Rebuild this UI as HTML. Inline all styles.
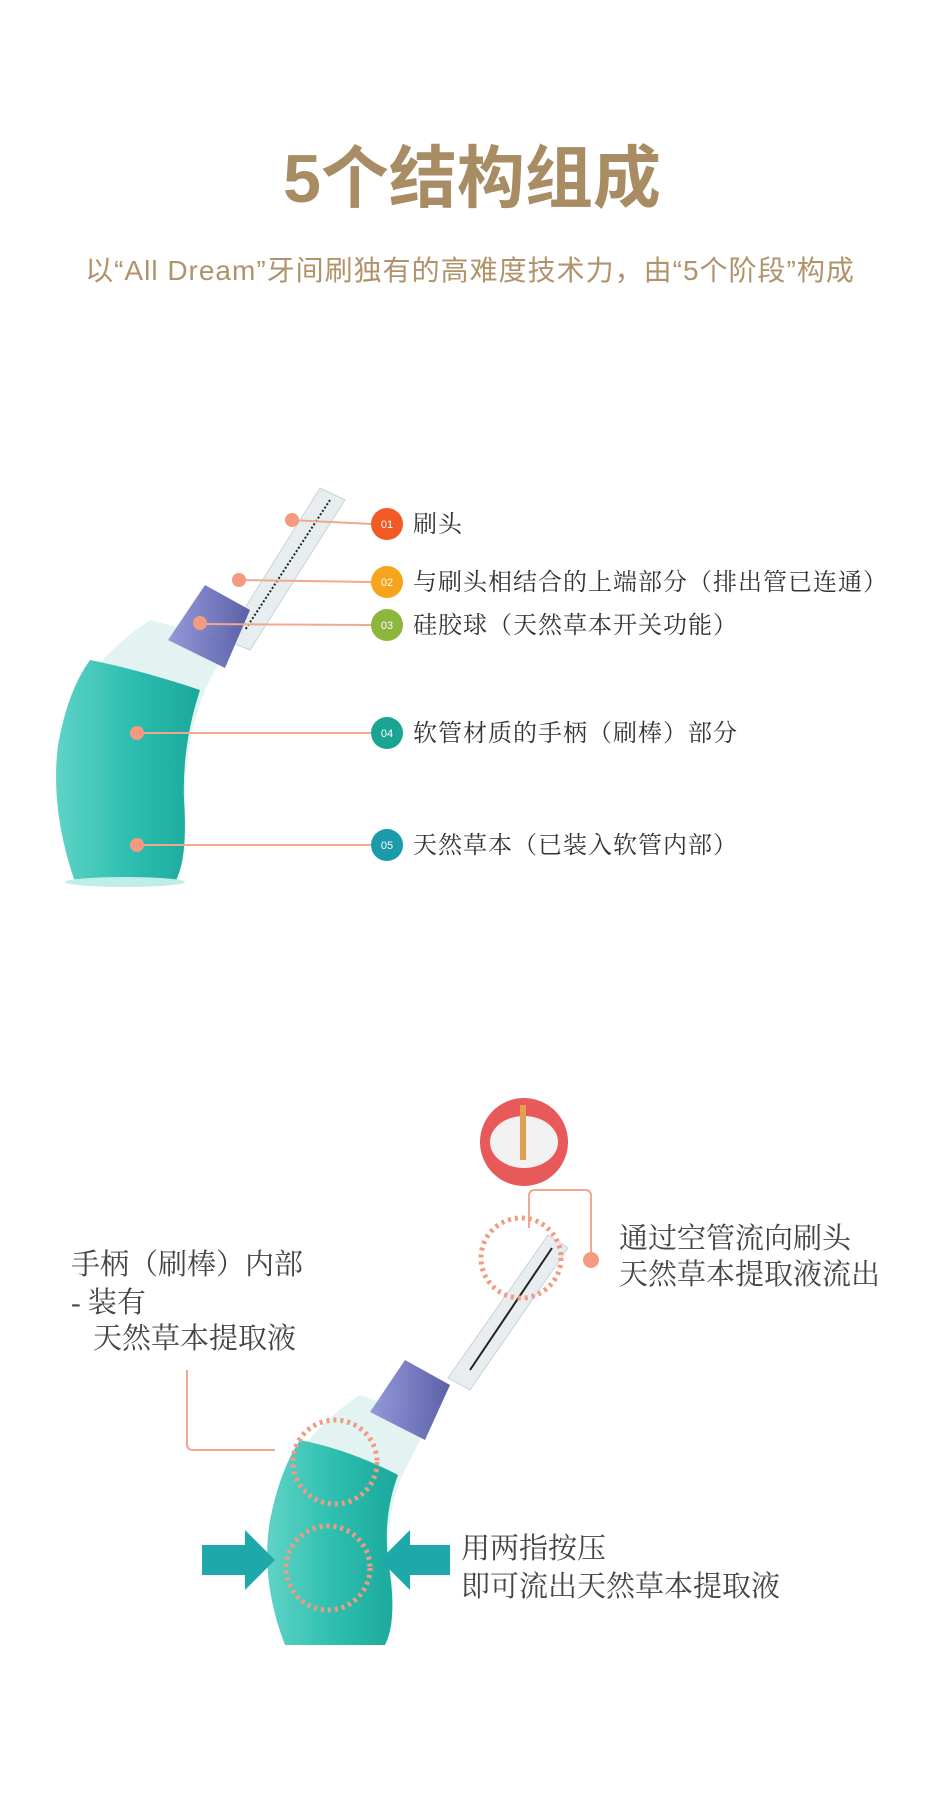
<!DOCTYPE html>
<html><head><meta charset="utf-8"><style>
body{margin:0;background:#fff;}
svg{display:block}
.t{font-family:"Liberation Serif","Noto Serif CJK SC",serif;fill:#333;font-size:24px;letter-spacing:1px}
.t2{font-family:"Liberation Serif","Noto Serif CJK SC",serif;fill:#444;font-size:29px}
</style></head><body>
<svg width="950" height="1809" viewBox="0 0 950 1809" xmlns="http://www.w3.org/2000/svg">
<defs>
<linearGradient id="teal" x1="0" x2="1"><stop offset="0" stop-color="#5fd3c6"/><stop offset="0.5" stop-color="#2ebfb0"/><stop offset="1" stop-color="#1aa89b"/></linearGradient>
<linearGradient id="blue" x1="0" x2="1"><stop offset="0" stop-color="#8a8fd6"/><stop offset="1" stop-color="#4a4f9e"/></linearGradient>
</defs>
<text x="472" y="202" text-anchor="middle" font-family="'Liberation Sans','Noto Sans CJK SC',sans-serif" font-weight="bold" font-size="68" fill="#a88c64">5个结构组成</text>
<text x="470" y="280" text-anchor="middle" font-family="'Liberation Sans','Noto Sans CJK SC',sans-serif" font-size="28" letter-spacing="1" fill="#b0936b">以“All Dream”牙间刷独有的高难度技术力，由“5个阶段”构成</text>

<!-- diagram 1 device -->
<g>
<path d="M320 488 L345 500 L250 650 L225 640 Z" fill="#e8eef0" stroke="#c8d4d8"/>
<line x1="330" y1="500" x2="245" y2="630" stroke="#222" stroke-width="2" stroke-dasharray="2 2"/>
<path d="M150 620 L230 640 L205 690 Q185 740 185 800 Q188 860 175 882 L75 882 Q50 810 58 745 Q75 670 150 620 Z" fill="#e3f3f1"/>
<path d="M205 585 L250 610 L225 668 L168 640 Z" fill="url(#blue)" opacity="0.9"/>
<path d="M90 660 Q140 670 200 690 Q182 745 184 800 Q188 860 175 882 L75 882 Q50 810 58 745 Q68 690 90 660 Z" fill="url(#teal)"/>
<ellipse cx="125" cy="882" rx="60" ry="5" fill="#bfeee8"/>
</g>
<g stroke="#f0a890" stroke-width="2">
<line x1="290" y1="520" x2="372" y2="524"/>
<line x1="237" y1="580" x2="372" y2="582"/>
<line x1="200" y1="624" x2="372" y2="625"/>
<line x1="137" y1="733" x2="372" y2="733"/>
<line x1="137" y1="845" x2="372" y2="845"/>
</g>
<g fill="#f49a80"><circle cx="292" cy="520" r="7"/><circle cx="239" cy="580" r="7"/><circle cx="200" cy="623" r="7"/><circle cx="137" cy="733" r="7"/><circle cx="137" cy="845" r="7"/></g>
<g font-family="'Liberation Sans',sans-serif" font-size="11" fill="#fff" text-anchor="middle">
<circle cx="387" cy="524" r="16" fill="#f15a24"/><text x="387" y="528">01</text>
<circle cx="387" cy="582" r="16" fill="#f7a41d"/><text x="387" y="586">02</text>
<circle cx="387" cy="625" r="16" fill="#8cb63c"/><text x="387" y="629">03</text>
<circle cx="387" cy="733" r="16" fill="#1aa593"/><text x="387" y="737">04</text>
<circle cx="387" cy="845" r="16" fill="#1b9aaa"/><text x="387" y="849">05</text>
</g>
<text class="t" x="413" y="532">刷头</text>
<text class="t" x="413" y="590">与刷头相结合的上端部分（排出管已连通）</text>
<text class="t" x="413" y="633">硅胶球（天然草本开关功能）</text>
<text class="t" x="413" y="741">软管材质的手柄（刷棒）部分</text>
<text class="t" x="413" y="853">天然草本（已装入软管内部）</text>

<!-- diagram 2 -->
<circle cx="524" cy="1142" r="44" fill="#e85a5a"/>
<ellipse cx="524" cy="1142" rx="34" ry="26" fill="#f2f2f2"/>
<rect x="520" y="1105" width="6" height="55" fill="#e0a050"/>
<path d="M529 1228 V1196 Q529 1190 535 1190 H585 Q591 1190 591 1196 V1256" fill="none" stroke="#f0a890" stroke-width="2"/>
<circle cx="591" cy="1260" r="8" fill="#f49a80"/>
<path d="M548 1235 L568 1248 L470 1390 L448 1378 Z" fill="#e8eef0" stroke="#c8d4d8"/>
<line x1="552" y1="1248" x2="470" y2="1370" stroke="#222" stroke-width="2"/>
<circle cx="521" cy="1258" r="40" fill="none" stroke="#f49a80" stroke-width="5" stroke-dasharray="3 4"/>
<path d="M360 1395 L430 1420 L405 1470 Q385 1510 390 1560 Q398 1620 385 1645 L285 1645 Q262 1580 270 1520 Q290 1440 360 1395 Z" fill="#e3f3f1"/>
<path d="M405 1360 L450 1385 L425 1440 L370 1412 Z" fill="url(#blue)" opacity="0.9"/>
<path d="M300 1440 Q350 1450 398 1475 Q383 1515 388 1560 Q398 1620 385 1645 L285 1645 Q260 1580 270 1520 Q280 1470 300 1440 Z" fill="url(#teal)"/>
<circle cx="335" cy="1462" r="42" fill="none" stroke="#f49a80" stroke-width="5" stroke-dasharray="3 4"/>
<circle cx="328" cy="1568" r="42" fill="none" stroke="#f49a80" stroke-width="5" stroke-dasharray="3 4"/>
<path d="M202 1545 H245 V1530 L275 1560 L245 1590 V1575 H202 Z" fill="#1fa8aa"/>
<path d="M450 1545 H410 V1530 L380 1560 L410 1590 V1575 H450 Z" fill="#1fa8aa"/>
<path d="M187 1370 V1444 Q187 1450 193 1450 H275" fill="none" stroke="#f0a890" stroke-width="2"/>
<text class="t2" x="71" y="1274">手柄（刷棒）内部</text>
<text class="t2" x="71" y="1312">- 装有</text>
<text class="t2" x="93" y="1348">天然草本提取液</text>
<text class="t2" x="619" y="1248">通过空管流向刷头</text>
<text class="t2" x="619" y="1284">天然草本提取液流出</text>
<text class="t2" x="461" y="1558">用两指按压</text>
<text class="t2" x="461" y="1596">即可流出天然草本提取液</text>
</svg>
</body></html>
